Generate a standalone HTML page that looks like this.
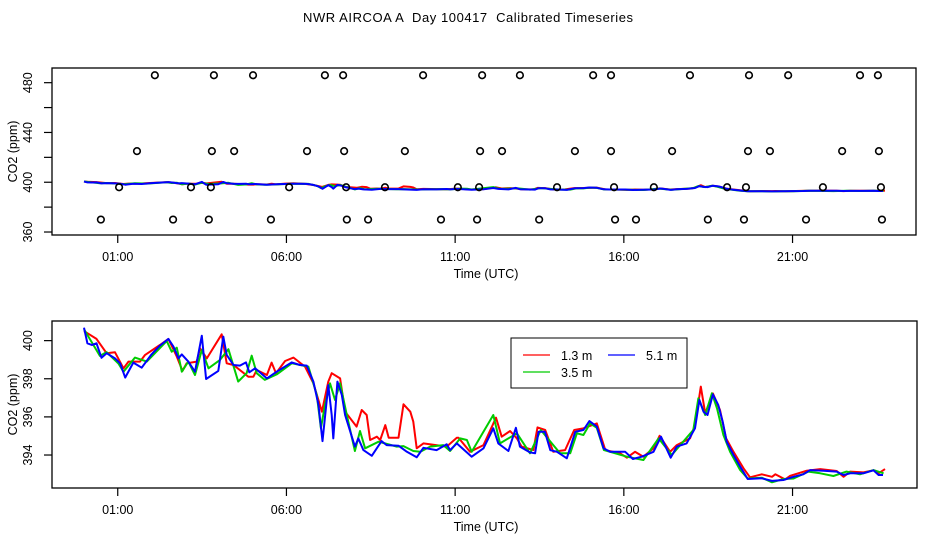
<!DOCTYPE html>
<html><head><meta charset="utf-8"><style>
html,body{margin:0;padding:0;background:#fff;}
svg{display:block;font-family:"Liberation Sans",Arial,sans-serif;}
</style></head><body>
<svg id="chart" width="936" height="540" viewBox="0 0 936 540">
<text x="468" y="22" font-size="13" text-anchor="middle" textLength="330" style="white-space:pre">NWR AIRCOA A  Day 100417  Calibrated Timeseries</text>
<g id="top"></g>
<g id="bot"></g>
</svg>
<script>
// ---- data ----
const xTickLabels = ["01:00","06:00","11:00","16:00","21:00"];
const xTickHours = [1,6,11,16,21];
const topYTicks = [360,380,400,420,440,460,480];
const topYLabels = ["360","","400","","440","","480"];
const botYTicks = [394,396,398,400];
const seriesNames = ["1.3 m","3.5 m","5.1 m"];
const seriesColors = ["#ff0000","#00cc00","#0000ff"];

const redT = [0,0.1,0.37,0.67,0.92,1.17,1.32,1.66,1.81,2.25,2.5,2.75,2.92,3.04,3.34,3.44,3.64,4.08,4.23,4.43,4.87,5.02,5.12,5.42,5.56,5.69,5.96,6.21,6.55,6.8,7.05,7.24,7.34,7.59,7.74,8.08,8.23,8.38,8.48,8.68,8.78,8.93,9.03,9.32,9.47,9.67,9.76,9.86,10.06,10.75,11.05,11.1,11.44,11.84,12.21,12.38,12.63,12.83,12.97,13.32,13.44,13.67,13.91,14.26,14.53,14.8,15.2,15.45,15.89,16.09,16.33,16.58,16.88,17.06,17.37,17.57,17.96,18.11,18.28,18.41,18.64,18.85,19.03,19.25,19.55,19.74,20.09,20.39,20.49,20.78,20.93,21.42,21.82,22.31,22.51,22.71,23.1,23.4,23.55,23.74];
const redV = [400.5,400.39,400.09,399.34,399.39,398.55,398.9,398.9,399.25,399.77,400.09,399.16,398.41,398.81,398.9,399.6,399.07,400.33,398.81,398.72,398.11,398.11,398.46,398.2,398.85,398.29,398.93,399.11,398.64,397.76,396.27,397.85,398.29,398.02,396.27,395.49,396.36,396.1,394.79,394.96,394.79,395.57,394.91,394.91,396.66,396.27,395.75,394.35,394.61,394.44,394.91,394.91,394.17,394.52,395.96,394.96,395.26,394.87,394.44,394.26,395.45,395.31,394.17,394.26,395.31,395.4,395.66,394.26,394.09,393.86,394.17,393.91,394.35,395.01,394.17,394.52,394.87,395.57,397.59,396.19,397.23,396.36,394.87,394.17,393.3,392.83,392.99,392.86,392.99,392.72,392.91,393.18,393.26,393.16,392.86,393.13,393.09,393.2,393.04,393.26];
const greenT = [0,0.47,0.67,0.87,1.02,1.17,1.51,1.86,2.45,2.6,2.75,2.9,3.09,3.29,3.49,3.69,4.03,4.28,4.57,4.82,4.97,5.12,5.36,5.71,6.16,6.65,6.9,7.02,7.14,7.29,7.44,7.59,7.79,8.03,8.18,8.33,8.73,9.27,9.47,9.76,9.96,10.26,10.65,10.85,11.15,11.35,11.49,12.13,12.33,12.83,13.22,13.54,13.91,14.11,14.41,14.61,14.8,15.0,15.2,15.41,16.09,16.58,17.03,17.42,17.67,18.06,18.21,18.41,18.61,18.76,18.95,19.15,19.45,19.67,20.09,20.39,20.73,21.03,21.47,21.82,22.21,22.6,23.0,23.4,23.7];
const greenV = [400.6,399.2,399.4,399.05,398.8,398.37,399.11,398.9,399.98,399.42,399.63,398.37,398.9,398.2,399.51,398.55,398.99,399.55,397.85,398.29,399.21,398.29,397.94,398.23,398.81,398.64,397.15,395.4,396.62,397.76,396.89,397.76,396.1,394.21,395.26,394.35,394.7,394.44,394.47,394.21,394.17,394.44,394.52,394.21,394.87,394.79,394.17,396.1,394.61,395.14,394.09,395.31,394.52,394.09,394.09,395.14,395.05,395.66,395.43,394.26,393.91,393.74,394.87,394.0,394.52,395.31,396.98,396.1,397.24,396.45,395.05,394.17,393.21,392.77,392.81,392.57,392.74,392.77,393.13,393.04,392.9,393.13,392.99,393.21,393.04];
const blueT = [0,0.1,0.23,0.37,0.52,0.67,0.92,1.07,1.22,1.46,1.71,2.0,2.25,2.5,2.65,2.8,2.9,3.09,3.29,3.49,3.62,3.98,4.13,4.23,4.43,4.62,4.8,4.9,5.07,5.42,5.71,6.16,6.4,6.6,6.8,6.95,7.07,7.24,7.34,7.39,7.51,7.64,7.74,8.03,8.13,8.28,8.53,8.82,8.97,9.32,9.57,9.86,10.06,10.45,10.75,10.85,11.05,11.49,11.84,12.13,12.28,12.58,12.8,12.92,13.22,13.37,13.47,13.66,13.82,14.02,14.31,14.56,14.8,14.98,15.2,15.4,15.59,16.04,16.27,16.53,16.88,17.1,17.39,17.57,17.86,18.11,18.24,18.36,18.48,18.64,18.8,18.93,19.05,19.25,19.45,19.67,20.09,20.39,20.73,21.03,21.32,21.52,21.92,22.31,22.51,22.71,23.1,23.4,23.55,23.68];
const blueV = [400.68,399.86,399.77,399.86,399.1,399.34,399.07,398.81,398.06,398.85,398.58,399.28,399.74,400.09,399.69,399.07,399.28,398.9,398.37,400.26,397.99,398.41,400.21,399.25,398.72,398.69,398.86,398.34,398.55,398.02,398.37,398.86,398.72,398.69,397.85,396.62,394.73,397.67,396.1,394.87,397.85,397.15,396.1,394.44,394.87,394.26,393.96,394.73,394.52,394.49,394.17,393.88,394.38,394.26,394.56,394.26,394.61,393.91,394.35,395.4,394.61,394.21,395.43,394.44,394.14,394.09,395.22,395.22,394.26,394.17,393.83,395.22,395.31,395.78,395.49,394.35,394.17,394.17,393.79,393.91,394.17,394.96,393.86,394.44,394.61,395.4,396.89,396.27,396.1,397.18,396.62,395.75,394.7,394.0,393.39,392.74,392.78,392.64,392.69,392.86,392.99,393.21,393.18,393.13,392.95,393.04,393.04,393.2,392.95,392.95];

// calibration circles (hours, ppm)
const calHours = [2.10,3.85,5.01,7.14,7.68,10.05,11.80,12.92,15.09,15.62,17.96,19.71,20.87,23.0,23.53,
 1.57,3.79,4.45,6.61,7.71,9.51,11.74,12.39,14.55,15.62,17.43,19.68,20.33,22.47,23.56,
 1.04,3.17,3.76,6.08,7.77,8.92,11.08,11.71,14.02,15.71,16.89,19.06,19.62,21.9,23.62,
 0.5,2.64,3.7,5.54,7.79,8.42,10.58,11.65,13.49,15.74,16.36,18.49,19.56,21.4,23.65];
const calValues = [486,486,486,486,486,486,486,486,486,486,486,486,486,486,486,
 425,425,425,425,425,425,425,425,425,425,425,425,425,425,425,
 396,396,396,396,396,396,396,396,396,396,396,396,396,396,396,
 370,370,370,370,370,370,370,370,370,370,370,370,370,370,370];

const NS="http://www.w3.org/2000/svg";
function mk(parent, tag, attrs){const e=document.createElementNS(NS,tag);for(const k in attrs)e.setAttribute(k,attrs[k]);parent.appendChild(e);return e;}
const xScale = h => 84 + h*33.74;

function panel(g, box, yMin, yMax, yTicks, yLabels, prefix){
  const yScale = v => box.b - (v - yMin)/(yMax - yMin)*(box.b - box.t);
  const series=[[redT,redV],[greenT,greenV],[blueT,blueV]];
  series.forEach((s,i)=>{
    const d=s[0].map((t,j)=>(j?'L':'M')+xScale(t).toFixed(1)+','+yScale(s[1][j]).toFixed(1)).join('');
    const p=mk(g,'path',{d:d,fill:'none',stroke:seriesColors[i],'stroke-width':2,'stroke-linejoin':'round'});
    
    
  });
  const fr=mk(g,'rect',{x:box.l,y:box.t,width:box.r-box.l,height:box.b-box.t,fill:'none',stroke:'#000','stroke-width':1.3});
  
  
  xTickHours.forEach((h,i)=>{
    const x=xScale(h);
    mk(g,'line',{x1:x,x2:x,y1:box.b,y2:box.b+8,stroke:'#000','stroke-width':1.2});
    const t=mk(g,'text',{x:x,y:box.b+26,'font-size':12.5,'text-anchor':'middle'});
    t.textContent=xTickLabels[i];
    
    
  });
  yTicks.forEach((v,i)=>{
    const y=yScale(v);
    mk(g,'line',{x1:box.l-8,x2:box.l,y1:y,y2:y,stroke:'#000','stroke-width':1.2});
    if(yLabels[i]){
      const t=mk(g,'text',{x:0,y:0,'font-size':12.5,'text-anchor':'middle',transform:'translate(32,'+y+') rotate(-90)'});
      t.textContent=yLabels[i];
      
      
    }
  });
  const xl=mk(g,'text',{x:486,y:box.b+43,'font-size':12.5,'text-anchor':'middle'});
  xl.textContent='Time (UTC)';
  
  
  const yl=mk(g,'text',{x:0,y:0,'font-size':12.5,'text-anchor':'middle',transform:'translate(17,'+((box.t+box.b)/2)+') rotate(-90)'});
  yl.textContent='CO2 (ppm)';
  
  
  return yScale;
}

const topG=document.getElementById('top');
const ysTop=panel(topG,{l:52,r:916,t:68,b:235},357.6,491.8,topYTicks,topYLabels,'top');
calHours.forEach((h,i)=>{
  const c=mk(topG,'circle',{cx:xScale(h),cy:ysTop(calValues[i]),r:3.3,fill:'none',stroke:'#000','stroke-width':1.6});
  
  
});

const botG=document.getElementById('bot');
panel(botG,{l:52,r:917,t:321,b:488},392.27,401.03,botYTicks,botYTicks.map(String),'bottom');

// legend
const lg=mk(botG,'g',{});


mk(lg,'rect',{x:511,y:338,width:176,height:50,fill:'#fff',stroke:'#000','stroke-width':1});
const legPos=[[523,355],[523,372],[608,355]];
[0,1,2].forEach(i=>{
  const [x,y]=legPos[i];
  const e=mk(lg,'g',{});
  
  
  mk(e,'line',{x1:x,x2:x+27,y1:y,y2:y,stroke:seriesColors[i],'stroke-width':1.2});
  const t=mk(e,'text',{x:x+38,y:y+5,'font-size':12.5});
  t.textContent=seriesNames[i];
});
</script>
</body></html>
